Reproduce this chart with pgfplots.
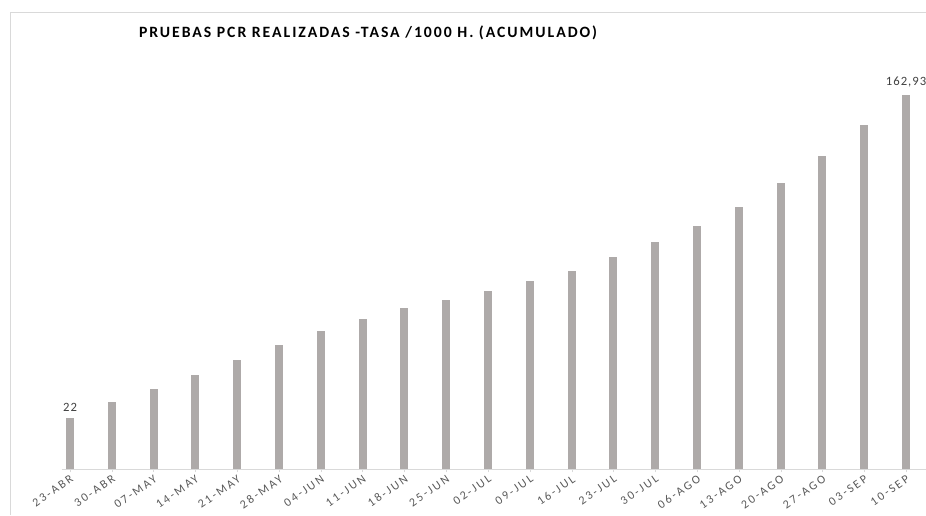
\documentclass[border=0pt]{standalone}
\usepackage{fontspec}
\setmainfont{Carlito}
\newfontfamily\titlefont[LetterSpace=12.5]{Carlito}
\newfontfamily\tickfont[LetterSpace=18]{Carlito}
\usepackage{pgfplots}
\pgfplotsset{compat=1.18}
\definecolor{barc}{HTML}{AEAAA9}
\definecolor{axc}{HTML}{D9D9D9}
\definecolor{tickc}{HTML}{595959}
\definecolor{labc}{HTML}{404040}
\begin{document}
\begin{tikzpicture}[x=0.75pt,y=0.75pt]
\useasboundingbox (0,0) rectangle (926,515);
\draw[axc, line width=0.75pt] (10,0) -- (10,502) -- (926,502);
\node[font=\titlefont\bfseries\fontsize{11.8}{13}\selectfont, text=black] at (368,482) {PRUEBAS PCR REALIZADAS -TASA /1000 H. (ACUMULADO)};
\begin{axis}[
  at={(52.5pt,34.5pt)}, anchor=origin,
  scale only axis, width=649pt, height=309.9pt,
  xmin=-0.2, xmax=20.5, ymin=0, ymax=180,
  axis x line*=bottom, axis y line=none,
  x axis line style={axc, line width=0.75pt, -},
  xtick={0,...,20},
  xticklabels={23-ABR,30-ABR,07-MAY,14-MAY,21-MAY,28-MAY,04-JUN,11-JUN,18-JUN,25-JUN,02-JUL,09-JUL,16-JUL,23-JUL,30-JUL,06-AGO,13-AGO,20-AGO,27-AGO,03-SEP,10-SEP},
  xticklabel style={rotate=35, anchor=north east, font=\tickfont\fontsize{9}{10}\selectfont, text=tickc, inner sep=1pt},
  major tick length=2.5pt, tick align=outside, x tick style={axc},
  ytick=\empty,
  clip=false,
]
\addplot[ycomb, barc, line width=6pt, mark=none] coordinates {
(0,22) (1,29.2) (2,34.9) (3,40.9) (4,47.5) (5,54.0) (6,60.1) (7,65.3) (8,70.1) (9,73.6) (10,77.5)
(11,81.9) (12,86.3) (13,92.4) (14,98.9) (15,105.9) (16,114.1) (17,124.6) (18,136.4) (19,149.9) (20,162.93)
};
\addplot[only marks, mark=none, nodes near coords, point meta=explicit symbolic,
  nodes near coords style={font=\fontsize{9.5}{10}\selectfont\addfontfeature{LetterSpace=8}, text=labc, anchor=south, yshift=2pt}]
  coordinates {(0,22) [22] (20,162.93) [{162,93}]};
\end{axis}
\end{tikzpicture}
\end{document}
